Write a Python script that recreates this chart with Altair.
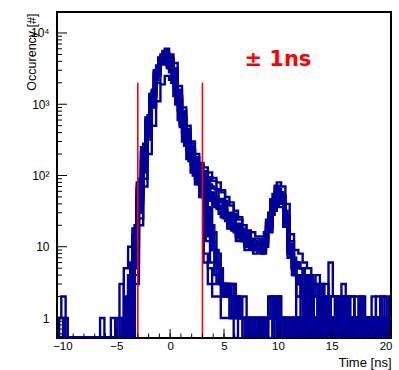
import altair as alt
import pandas as pd

# ---------------- data ----------------
BIN_WIDTH = 0.4
BIN_START_A = -10.5     # binning used by the first set of channels
BIN_START_B = -10.7     # binning used by the second set of channels
YMIN = 0.524
YMAX = 19700
X_DOMAIN = [-10.5, 20.5]

# per-channel histograms, counts per 0.4 ns bin (78 bins)
H_A1 = [1, 2, 0, 0, 0, 0, 0, 0, 0, 0,
        0, 0, 0, 0, 0, 0, 0, 3, 12, 60,
        200, 600, 1500, 3500, 5000, 6000, 5000, 3800, 1800, 900,
        500, 300, 200, 150, 130, 110, 92, 80, 62, 50,
        42, 32, 26, 20, 17, 16, 14, 14, 16, 30,
        55, 80, 70, 40, 15, 9, 8, 6, 5, 3,
        4, 3, 2, 6, 2, 1, 3, 1, 2, 1,
        2, 1, 0, 2, 1, 2, 1, 1]
H_A2 = [0, 1, 0, 0, 0, 0, 0, 0, 0, 0,
        0, 0, 0, 0, 0, 0, 0, 0, 5, 30,
        120, 400, 1100, 2800, 4500, 5500, 4200, 3000, 1500, 750,
        420, 260, 170, 130, 110, 90, 70, 64, 47, 44,
        30, 29, 19, 18, 12, 13, 9, 11, 12, 22,
        46, 72, 58, 32, 11, 7, 6, 5, 3, 4,
        2, 3, 1, 2, 1, 2, 0, 2, 1, 1,
        0, 2, 1, 1, 0, 1, 2, 0]
H_A3 = [0, 0, 0, 0, 0, 0, 0, 0, 0, 0,
        1, 0, 0, 0, 0, 0, 0, 0, 8, 40,
        150, 450, 1200, 2500, 4000, 4800, 3800, 2500, 1200, 600,
        350, 220, 140, 110, 90, 75, 66, 45, 42, 28,
        27, 18, 17, 12, 12, 9, 10, 8, 12, 19,
        40, 64, 52, 27, 9, 6, 5, 3, 4, 2,
        3, 1, 2, 1, 1, 0, 1, 2, 0, 1,
        1, 0, 1, 0, 2, 1, 0, 1]
H_A4 = [0, 0, 0, 0, 0, 0, 0, 0, 0, 0,
        0, 0, 0, 1, 0, 0, 0, 2, 15, 70,
        220, 650, 1400, 3000, 4200, 4200, 3200, 2000, 1000, 500,
        280, 170, 110, 85, 70, 58, 44, 42, 29, 27,
        18, 17, 12, 12, 9, 10, 8, 9, 9, 19,
        34, 52, 44, 24, 8, 5, 4, 3, 2, 3,
        1, 2, 1, 0, 1, 1, 0, 1, 1, 0,
        1, 1, 0, 1, 1, 0, 1, 0]
H_A5 = [0, 0, 0, 0, 0, 0, 0, 0, 0, 0,
        0, 0, 0, 0, 1, 0, 0, 0, 4, 25,
        90, 320, 900, 2000, 3600, 5200, 4600, 3200, 1600, 800,
        450, 280, 180, 140, 115, 95, 84, 62, 58, 41,
        38, 27, 24, 17, 16, 12, 13, 10, 13, 22,
        42, 54, 52, 26, 12, 6, 5, 4, 3, 2,
        2, 1, 3, 1, 0, 2, 1, 0, 1, 2,
        0, 1, 1, 0, 1, 1, 0, 2]
H_A6 = [0, 0, 0, 0, 0, 0, 0, 0, 0, 0,
        0, 0, 0, 0, 0, 3, 0, 1, 10, 50,
        160, 500, 1300, 2600, 3900, 4400, 3600, 2300, 1100, 560,
        320, 200, 130, 100, 80, 68, 52, 49, 35, 32,
        22, 20, 14, 14, 10, 11, 9, 10, 8, 17,
        28, 46, 36, 19, 7, 4, 3, 2, 3, 1,
        2, 1, 1, 2, 0, 1, 1, 0, 1, 0,
        1, 0, 1, 1, 0, 1, 0, 1]
H_B1 = [0, 0, 0, 0, 0, 0, 0, 0, 0, 0,
        0, 0, 0, 0, 0, 0, 2, 6, 20, 90,
        280, 700, 1600, 3200, 4600, 4000, 2800, 1700, 800, 400,
        220, 140, 90, 70, 8, 5, 3, 4, 2, 3,
        1, 2, 1, 0, 1, 1, 0, 1, 1, 2,
        1, 1, 0, 1, 1, 0, 1, 1, 0, 1,
        0, 1, 1, 0, 1, 0, 1, 1, 0, 1,
        1, 0, 1, 0, 1, 1, 0, 1]
H_B2 = [0, 0, 0, 0, 0, 0, 0, 0, 0, 0,
        0, 0, 0, 0, 0, 0, 0, 4, 8, 35,
        110, 350, 900, 2200, 3800, 4500, 3500, 2200, 1100, 520,
        300, 180, 120, 90, 60, 12, 6, 4, 3, 3,
        2, 3, 1, 1, 0, 1, 1, 1, 0, 1,
        1, 0, 1, 1, 0, 1, 0, 1, 1, 0,
        1, 0, 1, 1, 0, 1, 0, 1, 1, 0,
        1, 1, 0, 1, 0, 1, 1, 0]
H_B3 = [0, 0, 0, 0, 0, 0, 0, 0, 0, 0,
        0, 0, 0, 0, 0, 0, 0, 0, 3, 20,
        70, 200, 500, 1100, 1900, 2500, 2200, 1300, 600, 300,
        170, 110, 75, 50, 6, 3, 2, 2, 1, 1,
        1, 0, 1, 1, 0, 1, 0, 1, 1, 0,
        1, 1, 1, 0, 1, 0, 1, 0, 1, 1,
        0, 1, 1, 0, 1, 0, 1, 0, 1, 0,
        1, 0, 1, 0, 1, 0, 1, 1]
H_B4 = [0, 0, 0, 0, 0, 0, 0, 0, 0, 0,
        0, 0, 0, 0, 0, 0, 5, 10, 18, 80,
        250, 600, 1400, 2900, 4300, 4700, 3400, 2100, 1000, 480,
        260, 160, 100, 75, 50, 28, 12, 6, 3, 2,
        2, 1, 2, 1, 1, 1, 0, 1, 1, 1,
        2, 1, 1, 0, 1, 0, 1, 1, 0, 1,
        1, 0, 1, 1, 0, 1, 1, 0, 1, 0,
        1, 1, 0, 1, 1, 0, 1, 0]
H_B5 = [0, 0, 0, 0, 0, 0, 0, 0, 0, 0,
        0, 0, 0, 0, 0, 0, 0, 0, 6, 45,
        180, 520, 1300, 2700, 4400, 5000, 3900, 2600, 1300, 650,
        380, 230, 150, 110, 70, 35, 16, 8, 3, 3,
        2, 2, 1, 1, 1, 1, 1, 1, 0, 1,
        1, 2, 1, 1, 0, 1, 1, 0, 1, 1,
        0, 1, 1, 0, 1, 1, 0, 1, 1, 0,
        1, 0, 1, 1, 0, 1, 1, 0]
H_C1 = [0, 0, 1, 0, 0, 0, 0, 0, 0, 0,
        0, 0, 0, 0, 0, 0, 1, 4, 14, 65,
        210, 580, 1350, 2900, 4500, 5600, 4400, 3000, 1400, 700,
        400, 240, 160, 120, 85, 60, 45, 36, 33, 25,
        22, 17, 15, 12, 11, 10, 10, 9, 11, 19,
        38, 55, 48, 24, 9, 5, 2, 3, 1, 2,
        1, 1, 2, 0, 1, 1, 0, 2, 1, 1,
        0, 1, 1, 0, 1, 0, 1, 1]
H_C2 = [0, 0, 0, 0, 0, 0, 0, 0, 0, 0,
        0, 0, 0, 0, 0, 1, 0, 3, 10, 50,
        170, 480, 1200, 2700, 4100, 4900, 4100, 2800, 1300, 650,
        360, 220, 140, 100, 70, 48, 38, 34, 26, 23,
        18, 16, 13, 12, 10, 10, 9, 9, 10, 18,
        36, 48, 42, 20, 8, 4, 3, 1, 2, 1,
        0, 2, 1, 1, 0, 1, 1, 0, 1, 1,
        1, 0, 1, 1, 0, 1, 1, 0]
H_C3 = [0, 0, 0, 0, 0, 0, 0, 0, 0, 0,
        0, 0, 0, 0, 0, 0, 0, 2, 9, 45,
        150, 420, 1100, 2400, 3800, 4600, 3700, 2400, 1150, 560,
        310, 190, 125, 95, 75, 62, 58, 47, 43, 34,
        29, 23, 20, 16, 14, 12, 11, 10, 13, 24,
        46, 66, 58, 28, 10, 6, 2, 2, 1, 1,
        2, 0, 1, 1, 2, 0, 1, 1, 0, 1,
        1, 1, 0, 1, 1, 0, 1, 0]
H_C4 = [0, 0, 0, 0, 0, 0, 0, 0, 0, 0,
        0, 0, 0, 0, 0, 0, 0, 5, 16, 75,
        240, 640, 1500, 3100, 4700, 5300, 3700, 2400, 1150, 560,
        300, 190, 120, 80, 40, 15, 9, 4, 3, 3,
        2, 2, 1, 1, 1, 1, 0, 1, 1, 1,
        0, 1, 1, 0, 1, 1, 0, 1, 0, 1,
        1, 0, 1, 1, 0, 1, 1, 0, 1, 1,
        0, 1, 1, 0, 1, 1, 0, 1]
H_C5 = [0, 0, 0, 0, 0, 0, 0, 0, 0, 0,
        0, 0, 0, 0, 0, 0, 0, 1, 6, 40,
        140, 430, 1150, 2600, 4000, 4700, 3600, 2300, 1100, 540,
        290, 180, 115, 85, 62, 55, 50, 44, 36, 30,
        26, 21, 18, 15, 13, 11, 10, 10, 12, 21,
        40, 58, 50, 26, 9, 5, 1, 2, 1, 0,
        1, 1, 0, 1, 1, 0, 2, 1, 0, 1,
        0, 1, 0, 1, 1, 0, 1, 1]
H_D1 = [0, 0, 0, 0, 0, 0, 0, 0, 0, 0,
        0, 0, 0, 0, 0, 0, 0, 3, 11, 55,
        190, 540, 1300, 2800, 4300, 5100, 4300, 2900, 1350, 680,
        380, 230, 150, 105, 78, 56, 47, 38, 36, 27,
        24, 19, 17, 14, 12, 11, 10, 10, 11, 16,
        32, 44, 40, 19, 7, 4, 3, 2, 3, 1,
        1, 2, 0, 1, 1, 0, 1, 1, 2, 0,
        1, 1, 0, 1, 0, 1, 1, 0]
H_D2 = [0, 0, 0, 0, 0, 0, 0, 0, 0, 0,
        0, 0, 0, 0, 0, 0, 0, 2, 12, 58,
        200, 560, 1350, 2800, 4400, 5000, 4000, 2700, 1250, 620,
        350, 210, 130, 90, 58, 36, 20, 9, 5, 3,
        2, 1, 2, 1, 1, 0, 1, 1, 0, 1,
        1, 2, 1, 1, 0, 1, 1, 0, 1, 1,
        0, 1, 2, 1, 0, 1, 1, 0, 1, 1,
        0, 1, 1, 0, 1, 1, 0, 1]
H_D3 = [0, 0, 0, 0, 0, 0, 0, 0, 0, 0,
        0, 0, 0, 0, 0, 0, 1, 4, 15, 70,
        230, 620, 1450, 3000, 4500, 4900, 3600, 2300, 1100, 540,
        290, 170, 105, 60, 25, 14, 9, 5, 3, 2,
        3, 2, 1, 2, 1, 1, 1, 0, 1, 1,
        2, 2, 1, 1, 1, 1, 0, 1, 1, 0,
        1, 0, 1, 1, 0, 2, 0, 1, 1, 0,
        1, 0, 1, 1, 0, 1, 0, 1]
H_D4 = [0, 0, 0, 0, 0, 0, 0, 0, 0, 0,
        0, 0, 0, 0, 0, 0, 0, 3, 10, 48,
        170, 500, 1250, 2750, 4300, 5200, 4300, 2900, 1400, 700,
        390, 240, 155, 110, 88, 64, 57, 41, 44, 30,
        27, 19, 21, 14, 15, 11, 12, 9, 10, 17,
        32, 46, 40, 20, 8, 5, 4, 3, 2, 2,
        1, 2, 1, 1, 0, 1, 1, 2, 0, 1,
        1, 0, 1, 1, 0, 1, 1, 0]

HISTS_BINNING_A = [("A1", H_A1), ("A3", H_A3), ("A5", H_A5), ("B1", H_B1),
                   ("B3", H_B3), ("B5", H_B5), ("C2", H_C2), ("C4", H_C4),
                   ("D1", H_D1), ("D3", H_D3)]
HISTS_BINNING_B = [("A2", H_A2), ("A4", H_A4), ("A6", H_A6), ("B2", H_B2),
                   ("B4", H_B4), ("C1", H_C1), ("C3", H_C3), ("C5", H_C5),
                   ("D2", H_D2), ("D4", H_D4)]

CUT_T = [-3, 3]          # red window lines
CUT_TOP = 2000
ANNOT_TEXT = "± 1ns"
ANNOT_T = 10.0
ANNOT_V = 3400

X_MAJOR = [-10, -5, 0, 5, 10, 15, 20]
X_MINOR = [-10, -9, -8, -7, -6, -5, -4, -3, -2, -1, 0, 1, 2, 3, 4, 5, 6, 7, 8, 9,
           10, 11, 12, 13, 14, 15, 16, 17, 18, 19, 20]
Y_MAJOR = [1, 10, 100, 1000, 10000]
Y_MINOR = [0.6, 0.7, 0.8, 0.9, 2, 3, 4, 5, 6, 7, 8, 9, 20, 30, 40, 50, 60, 70, 80, 90,
           200, 300, 400, 500, 600, 700, 800, 900, 2000, 3000, 4000, 5000, 6000,
           7000, 8000, 9000]

# ---------------- build tables ----------------
rows = []
for start, group in [(BIN_START_A, HISTS_BINNING_A), (BIN_START_B, HISTS_BINNING_B)]:
    for name, counts in group:
        for k, c in enumerate(counts):
            rows.append({"h": name, "i": k, "t": start + k * BIN_WIDTH,
                         "n": max(c, YMIN)})
        rows.append({"h": name, "i": len(counts),
                     "t": start + len(counts) * BIN_WIDTH,
                     "n": max(counts[-1], YMIN)})
hist_df = pd.DataFrame(rows)

cut_df = pd.DataFrame({"t": CUT_T, "n": [YMIN] * len(CUT_T), "hi": [CUT_TOP] * len(CUT_T)})
annot_df = pd.DataFrame({"t": [ANNOT_T], "n": [ANNOT_V], "label": [ANNOT_TEXT]})
xmaj_df = pd.DataFrame({"t": X_MAJOR})
xmin_df = pd.DataFrame({"t": X_MINOR})
ymaj_df = pd.DataFrame({"n": Y_MAJOR})
ymin_df = pd.DataFrame({"n": Y_MINOR})

W, H = 334, 326
FONT = "Liberation Sans"
xs = alt.Scale(domain=X_DOMAIN, nice=False, zero=False)
ys = alt.Scale(type="log", domain=[YMIN, YMAX], nice=False)

label_expr = ("datum.value == 1 ? '1' : datum.value == 10 ? '10' : "
              "datum.value == 100 ? '10²' : datum.value == 1000 ? '10³' : '10⁴'")

XAX = alt.Axis(
    values=X_MAJOR, ticks=False, domain=False, grid=False,
    labelFont=FONT, labelFontSize=11.5, labelColor="black", labelPadding=2,
    title="Time [ns]", titleFont=FONT, titleFontSize=13, titleFontWeight="normal",
    titleColor="black", titleAnchor="end", titleAlign="right",
    titleX=W, titleY=24, titleBaseline="middle")
YAX = alt.Axis(
    values=Y_MAJOR, labelExpr=label_expr, ticks=False, domain=False, grid=False,
    labelFont=FONT, labelFontSize=12, labelColor="black", labelPadding=8,
    title="Occurency [#]", titleFont=FONT, titleFontSize=12.5,
    titleFontWeight="normal", titleColor="black", titleAngle=-90,
    titleAlign="right", titleBaseline="middle", titleX=-26, titleY=1)

hist = alt.Chart(hist_df).mark_line(
    interpolate="step-after", clip=True, strokeWidth=2.4, color="#000099"
).encode(
    x=alt.X("t:Q", scale=xs, axis=XAX),
    y=alt.Y("n:Q", scale=ys, axis=YAX),
    detail="h:N",
    order="i:Q",
)

cuts = alt.Chart(cut_df).mark_rule(color="#ff0000", strokeWidth=1.6, clip=True).encode(
    x=alt.X("t:Q", scale=xs, axis=XAX),
    y=alt.Y("n:Q", scale=ys, axis=YAX),
    y2="hi:Q",
)

annot = alt.Chart(annot_df).mark_text(
    font="DejaVu Sans", fontWeight="bold", fontSize=21, color="#ff0000",
    align="center", baseline="alphabetic"
).encode(
    x=alt.X("t:Q", scale=xs, axis=XAX),
    y=alt.Y("n:Q", scale=ys, axis=YAX),
    text="label:N",
)

xmaj = alt.Chart(xmaj_df).mark_rule(color="black", strokeWidth=1).encode(
    x=alt.X("t:Q", scale=xs, axis=XAX), y=alt.value(H), y2=alt.value(H - 9))
xmin = alt.Chart(xmin_df).mark_rule(color="black", strokeWidth=1).encode(
    x=alt.X("t:Q", scale=xs, axis=XAX), y=alt.value(H), y2=alt.value(H - 4.5))
ymaj = alt.Chart(ymaj_df).mark_rule(color="black", strokeWidth=1).encode(
    y=alt.Y("n:Q", scale=ys, axis=YAX), x=alt.value(0), x2=alt.value(10))
ymin = alt.Chart(ymin_df).mark_rule(color="black", strokeWidth=1).encode(
    y=alt.Y("n:Q", scale=ys, axis=YAX), x=alt.value(0), x2=alt.value(5))

chart = alt.layer(hist, cuts, annot, xmaj, xmin, ymaj, ymin).properties(
    width=W, height=H,
    autosize=alt.AutoSizeParams(type="none"),
    padding={"left": 57, "top": 12, "right": 8, "bottom": 32},
    background="white",
).configure_view(stroke="black", strokeWidth=2)

chart.save("out.html", embed_options={"renderer": "svg", "actions": False})
